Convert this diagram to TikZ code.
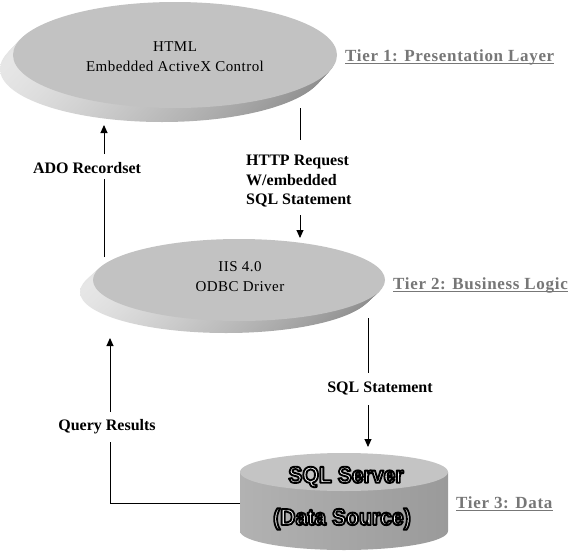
\documentclass[tikz,border=0pt]{standalone}
\usepackage{fontspec}
\setmainfont{Liberation Serif}
\newfontfamily\sqlfont[FakeStretch=0.92]{Liberation Sans}
\usetikzlibrary{arrows.meta}
\definecolor{disk}{HTML}{C2C2C2}
\definecolor{shlight}{HTML}{E6E6E6}
\definecolor{shdark}{HTML}{8C8C8C}
\definecolor{cylL}{HTML}{B2B2B2}
\definecolor{cylM}{HTML}{C6C6C6}
\definecolor{cylR}{HTML}{9A9A9A}
\definecolor{cyltop}{HTML}{C4C4C4}
\definecolor{tierc}{HTML}{777777}
\newcommand{\outlinetext}[1]{\special{pdf:literal direct 2 Tr 1.9 w 1 j 0 G}#1\special{pdf:literal direct 0 Tr}}
\tikzset{
  lbl/.style={font=\bfseries\fontsize{16}{19.5}\selectfont, inner sep=0pt, align=left},
  intext/.style={font=\fontsize{15}{20}\selectfont\addfontfeature{LetterSpace=3}, align=center, inner sep=0pt},
  tier/.style={text=tierc, font=\bfseries\fontsize{17}{20}\selectfont\addfontfeature{LetterSpace=4}, inner sep=0pt, anchor=base west},
  tierline/.style={draw=tierc, line width=1.3pt},
  sqltext/.style={font=\sqlfont\bfseries\fontsize{23}{26}\selectfont, text=white, inner sep=0pt},
  conn/.style={line width=0.9pt},
  arr/.style={conn, -{Triangle[length=8pt,width=7pt]}},
}
\begin{document}
\begin{tikzpicture}[x=1pt,y=-1pt]
\useasboundingbox (0,0) rectangle (576,552);
\fill[white] (0,0) rectangle (576,552);

% top disc
\foreach \i in {13,12,...,1}
  \shade[left color=shlight, right color=shdark] (175-\i,55+\i*14/13) ellipse [x radius=162, y radius=53];
\fill[disk] (175,55) ellipse [x radius=162, y radius=53];
\node[intext] (html) at (175,57) {HTML\\Embedded ActiveX Control};

% middle disc
\foreach \i in {13,12,...,1}
  \shade[left color=shlight, right color=shdark] (239-\i,280+\i*12/13) ellipse [x radius=146, y radius=41];
\fill[disk] (239,280) ellipse [x radius=146, y radius=41];
\node[intext] (iis) at (240,277) {IIS 4.0\\ODBC Driver};

% cylinder
\shade[left color=cylL, middle color=cylM, right color=cylR]
  (240,472) -- (240,531) arc[start angle=180, end angle=0, x radius=104, y radius=19] -- (448,472) -- cycle;
\fill[cyltop] (344,472) ellipse [x radius=104, y radius=19];
\node[sqltext] (sql) at (346,477) {\outlinetext{SQL Server}};
\node[sqltext] (ds) at (342,519) {\outlinetext{(Data Source)}};

% tier labels
\node[tier] (t1) at (345,61) {Tier 1: Presentation Layer};
\draw[tierline] ([yshift=-2.5pt]t1.base west) -- ([yshift=-2.5pt]t1.base east);
\node[tier] (t2) at (393,289) {Tier 2: Business Logic};
\draw[tierline] ([yshift=-2.5pt]t2.base west) -- ([yshift=-2.5pt]t2.base east);
\node[tier] (t3) at (456,508) {Tier 3: Data};
\draw[tierline] ([yshift=-2.5pt]t3.base west) -- ([yshift=-2.5pt]t3.base east);

% HTTP request
\coordinate (h1) at (300,108);
\coordinate (h2) at (300,140);
\coordinate (h3) at (300,215);
\coordinate (h4) at (300,238);
\node[lbl, anchor=west] (http) at (246,181.5) {HTTP Request\\W/embedded\\SQL Statement};
\draw[conn] (h1) -- (h2);
\draw[arr] (h3) -- (h4);

% ADO recordset
\coordinate (a1) at (104,257);
\coordinate (a2) at (104,179);
\coordinate (a3) at (104,154);
\coordinate (a4) at (104,125);
\node[lbl] (ado) at (87,168) {ADO Recordset};
\draw[conn] (a1) -- (a2);
\draw[arr] (a3) -- (a4);

% SQL statement
\coordinate (s1) at (368,318);
\coordinate (s2) at (368,373);
\coordinate (s3) at (368,405);
\coordinate (s4) at (368,447);
\node[lbl] (sqls) at (380,388) {SQL Statement};
\draw[conn] (s1) -- (s2);
\draw[arr] (s3) -- (s4);

% Query results
\coordinate (q1) at (240,503);
\coordinate (qc) at (110,503);
\coordinate (q2) at (110,442);
\coordinate (q3) at (110,412);
\coordinate (q4) at (110,338);
\node[lbl] (qr) at (107,427) {Query Results};
\draw[conn] (q1) -- (qc) -- (q2);
\draw[arr] (q3) -- (q4);
\end{tikzpicture}
\end{document}
